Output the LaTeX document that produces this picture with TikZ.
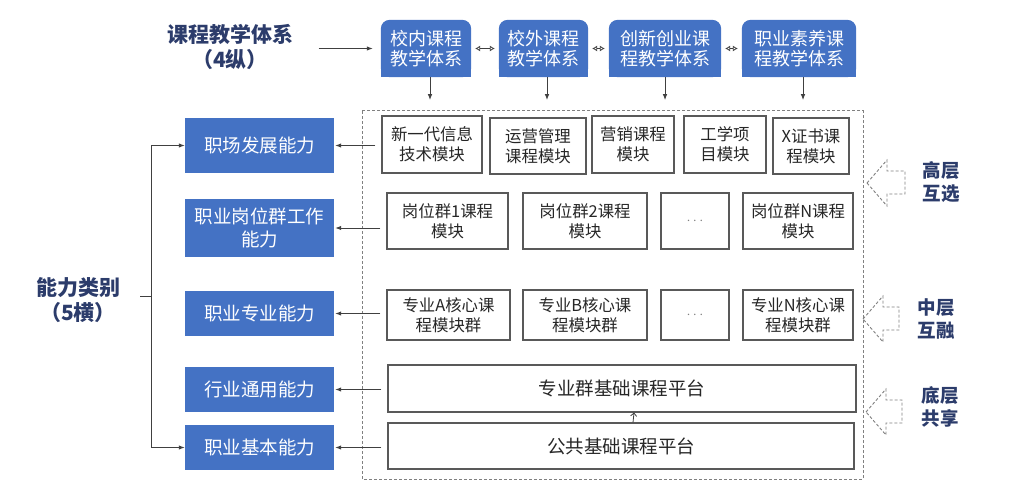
\documentclass[tikz,border=0pt]{standalone}
\usepackage{fontspec}
\setmainfont{Noto Sans CJK SC}
\usetikzlibrary{arrows.meta,positioning,backgrounds}
\definecolor{boxblue}{RGB}{68,114,196}
\definecolor{navy}{RGB}{44,60,107}
\definecolor{linegray}{RGB}{64,64,64}
\definecolor{framegray}{RGB}{89,89,89}
\definecolor{textdark}{RGB}{38,38,38}
\tikzset{
  ability/.style={fill=boxblue,text=white,minimum width=149pt,inner sep=0pt,
    align=center,font=\fontsize{18.5}{23}\selectfont},
  sysbox/.style={text=white,minimum height=57pt,inner sep=0pt,align=center,
    font=\fontsize{18}{20}\selectfont},
  modbox/.style={draw=framegray,line width=1.1pt,text=textdark,inner sep=0pt,
    align=center,font=\fontsize{16.4}{20}\selectfont},
  platform/.style={modbox,font=\fontsize{18.5}{22}\selectfont},
  dotsbox/.style={modbox,text=gray,font=\fontsize{14}{14}\selectfont},
  heading/.style={text=navy,align=center,font=\bfseries\fontsize{21}{25}\selectfont},
  layer/.style={text=navy,align=center,font=\bfseries\fontsize{18.5}{23}\selectfont},
  link/.style={linegray,line width=1pt,-{Latex[length=6pt,width=4.5pt]}},
  both/.style={linegray,line width=0.8pt,
    {Latex[open,length=5pt,width=6pt]}-{Latex[open,length=5pt,width=6pt]},
    shorten <=4pt,shorten >=4pt},
}

\begin{document}
\begin{tikzpicture}[x=1pt,y=-1pt]
  \useasboundingbox (0,0) rectangle (1016,500);

  % --- headings ---
  \node[heading] (sys) at (230,47) {课程教学体系\\（4纵）};
  \node[heading] (cat) at (78,300) {能力类别\\（5横）};

  % --- four course systems (top) ---
  \node[sysbox,minimum width=90pt]  (s1) at (426,48.5)   {校内课程\\教学体系};
  \node[sysbox,minimum width=89pt]  (s2) at (543.5,48.5) {校外课程\\教学体系};
  \node[sysbox,minimum width=112pt] (s3) at (665,48.5)   {创新创业课\\程教学体系};
  \node[sysbox,minimum width=114pt] (s4) at (799,48.5)   {职业素养课\\程教学体系};
  \begin{scope}[on background layer]
    \foreach \s in {s1,s2,s3,s4}{
      \fill[boxblue,rounded corners=9pt] (\s.south west) rectangle (\s.north east);
      \fill[boxblue] (\s.south west) rectangle ([yshift=-20pt]\s.east);
    }
  \end{scope}

  % --- five ability classes (left) ---
  \node[ability,minimum height=55pt] (lab1) at (259.5,145.5) {职场发展能力};
  \node[ability,minimum height=58pt] (lab2) at (259.5,228)   {职业岗位群工作\\能力};
  \node[ability,minimum height=45pt] (lab3) at (259.5,313.5) {职业专业能力};
  \node[ability,minimum height=45pt] (lab4) at (259.5,389.5) {行业通用能力};
  \node[ability,minimum height=45pt] (lab5) at (259.5,447.5) {职业基本能力};

  % --- course modules ---
  \draw[gray,dashed,line width=1pt,dash pattern=on 3pt off 2pt] (362,111) rectangle (863,479);

  \node[modbox,minimum width=100pt,minimum height=57pt] (m11) at (432,144.5) {新一代信息\\技术模块};
  \node[modbox,minimum width=96pt,minimum height=56pt]  (m12) at (538,146)   {运营管理\\课程模块};
  \node[modbox,minimum width=82pt,minimum height=57pt]  (m13) at (633,144.5) {营销课程\\模块};
  \node[modbox,minimum width=82pt,minimum height=57pt]  (m14) at (725,144.5) {工学项\\目模块};
  \node[modbox,minimum width=76pt,minimum height=56pt]  (m15) at (811,146)   {X证书课\\程模块};

  \node[modbox,minimum width=121pt,minimum height=56pt] (m21) at (447.5,221) {岗位群1课程\\模块};
  \node[modbox,minimum width=124pt,minimum height=56pt] (m22) at (585,221)   {岗位群2课程\\模块};
  \node[dotsbox,minimum width=68pt,minimum height=56pt] (m23) at (695,221)   {$\cdots$};
  \node[modbox,minimum width=110pt,minimum height=56pt] (m24) at (798,221)   {岗位群N课程\\模块};

  \node[modbox,minimum width=123pt,minimum height=50pt] (m31) at (448.5,315) {专业A核心课\\程模块群};
  \node[modbox,minimum width=124pt,minimum height=50pt] (m32) at (585,315)   {专业B核心课\\程模块群};
  \node[dotsbox,minimum width=68pt,minimum height=50pt] (m33) at (695,315)   {$\cdots$};
  \node[modbox,minimum width=110pt,minimum height=50pt] (m34) at (798,315)   {专业N核心课\\程模块群};

  \node[platform,minimum width=468pt,minimum height=47pt] (p1) at (622,388.5) {专业群基础课程平台};
  \node[platform,minimum width=466pt,minimum height=46pt] (p2) at (621,446)   {公共基础课程平台};

  % --- arrows ---
  \draw[link,shorten <=22pt,shorten >=8pt] (sys.east |- s1) -- (s1.west);
  \draw[both] (s1) -- (s2);
  \draw[both] (s2) -- (s3);
  \draw[both] (s3) -- (s4);
  \foreach \s/\dx in {s1/4,s2/3.5,s3/0,s4/4}
    \draw[link] ([xshift=\dx pt]\s.south) -- ++(0,23);

  \foreach \m/\a in {m11/lab1,m21/lab2,m31/lab3,p1/lab4,p2/lab5}
    \draw[link,shorten <=6pt,shorten >=1pt] (\a.east -| \m.west) -- (\a.east);

  \draw[linegray,line width=0.8pt,-{Straight Barb[length=3pt,width=6pt]}]
    ([xshift=12pt]p2.north) -- ([xshift=12pt]p1.south);

  % --- bracket of the ability classes ---
  \coordinate (brk) at (151,296);
  \draw[linegray,line width=1pt] (lab1.west -| brk) -- (lab5.west -| brk);
  \draw[linegray,line width=1pt,shorten >=16pt] (brk) -- (brk -| cat.east);
  \draw[link] (lab1.west -| brk) -- (lab1.west);
  \draw[link] (lab5.west -| brk) -- (lab5.west);

  % --- layers (right) ---
  \foreach \tx/\ty/\len in {867/183/18,863/319/16,866/412/16}
    \draw[gray,dashed,line width=0.9pt,dash pattern=on 3pt off 2pt]
      (\tx,\ty) -- ++(20,-23) -- ++(0,11) -- ++(\len,0) -- ++(0,23)
      -- ++(-\len,0) -- ++(0,12) -- cycle;
  \node[layer] (hi)  at (941,182) {高层\\互选};
  \node[layer] (mid) at (936,319) {中层\\互融};
  \node[layer] (lo)  at (940,407) {底层\\共享};
\end{tikzpicture}
\end{document}
